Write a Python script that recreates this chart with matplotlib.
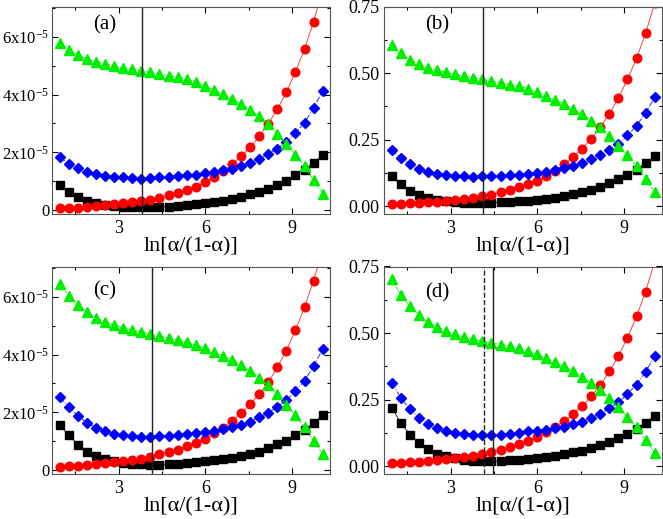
import numpy as np
import matplotlib
matplotlib.use('Agg')
import matplotlib.pyplot as plt
from matplotlib.ticker import MultipleLocator, FixedLocator, FixedFormatter

plt.rcParams['font.family'] = ['Liberation Serif', 'DejaVu Serif']
plt.rcParams['mathtext.fontset'] = 'custom'
plt.rcParams['mathtext.rm'] = 'Liberation Serif'
plt.rcParams['mathtext.default'] = 'regular'

# eje x: ln[a/(1-a)], 30 puntos
x = [0.96, 1.27, 1.59, 1.90, 2.22, 2.53, 2.84, 3.16, 3.47, 3.79,
     4.10, 4.41, 4.73, 5.04, 5.36, 5.67, 5.98, 6.30, 6.61, 6.93,
     7.24, 7.55, 7.87, 8.18, 8.50, 8.81, 9.12, 9.44, 9.75, 10.07]

# (a) en unidades de 1e-5
a_black = [0.85, 0.63, 0.45, 0.31, 0.23, 0.17, 0.14, 0.12, 0.10, 0.09, 0.09, 0.10, 0.12, 0.14, 0.16,
           0.21, 0.24, 0.29, 0.33, 0.39, 0.45, 0.54, 0.62, 0.74, 0.88, 1.01, 1.20, 1.38, 1.63, 1.90]
a_red = [0.07, 0.07, 0.08, 0.10, 0.14, 0.17, 0.20, 0.23, 0.27, 0.31, 0.36, 0.43, 0.52, 0.60, 0.70,
         0.81, 0.96, 1.14, 1.35, 1.59, 1.86, 2.17, 2.55, 2.98, 3.50, 4.08, 4.78, 5.58, 6.52, 7.65]
a_blue = [1.83, 1.61, 1.45, 1.32, 1.24, 1.19, 1.15, 1.13, 1.10, 1.09, 1.10, 1.13, 1.15, 1.17, 1.21,
          1.23, 1.27, 1.31, 1.37, 1.43, 1.52, 1.63, 1.77, 1.94, 2.13, 2.36, 2.67, 3.03, 3.53, 4.14]
a_green = [5.77, 5.54, 5.38, 5.23, 5.14, 5.06, 4.99, 4.92, 4.88, 4.82, 4.77, 4.71, 4.66, 4.60, 4.53,
           4.45, 4.30, 4.16, 4.02, 3.86, 3.68, 3.47, 3.24, 2.97, 2.64, 2.29, 1.92, 1.52, 1.03, 0.57]

# (b)
b_black = [0.112, 0.082, 0.059, 0.043, 0.032, 0.024, 0.019, 0.015, 0.014, 0.013, 0.013, 0.014, 0.015, 0.017, 0.019,
           0.021, 0.024, 0.028, 0.033, 0.039, 0.045, 0.053, 0.062, 0.074, 0.087, 0.101, 0.119, 0.138, 0.162, 0.189]
b_red = [0.010, 0.010, 0.011, 0.013, 0.015, 0.018, 0.020, 0.024, 0.028, 0.033, 0.038, 0.044, 0.053, 0.063, 0.072,
         0.082, 0.096, 0.113, 0.134, 0.158, 0.185, 0.216, 0.254, 0.297, 0.348, 0.406, 0.476, 0.555, 0.650, 0.762]
b_blue = [0.211, 0.182, 0.158, 0.140, 0.129, 0.121, 0.116, 0.114, 0.113, 0.111, 0.113, 0.114, 0.115, 0.116, 0.119,
          0.123, 0.126, 0.130, 0.136, 0.142, 0.151, 0.162, 0.176, 0.193, 0.212, 0.235, 0.266, 0.302, 0.351, 0.410]
b_green = [0.605, 0.575, 0.551, 0.534, 0.519, 0.510, 0.503, 0.495, 0.488, 0.483, 0.476, 0.470, 0.464, 0.457, 0.450,
           0.442, 0.428, 0.414, 0.400, 0.384, 0.366, 0.345, 0.322, 0.296, 0.263, 0.228, 0.191, 0.151, 0.102, 0.052]

# (c) en unidades de 1e-5
c_black = [1.55, 1.20, 0.88, 0.64, 0.48, 0.37, 0.30, 0.25, 0.22, 0.20, 0.19, 0.19, 0.20, 0.21, 0.23,
           0.27, 0.30, 0.34, 0.38, 0.43, 0.49, 0.56, 0.64, 0.75, 0.89, 1.02, 1.20, 1.38, 1.63, 1.91]
c_red = [0.10, 0.13, 0.14, 0.17, 0.22, 0.25, 0.29, 0.31, 0.34, 0.39, 0.46, 0.54, 0.62, 0.71, 0.82,
         0.95, 1.09, 1.27, 1.47, 1.70, 1.97, 2.28, 2.63, 3.04, 3.56, 4.14, 4.84, 5.64, 6.56, 7.65]
c_blue = [2.53, 2.18, 1.88, 1.64, 1.46, 1.34, 1.26, 1.22, 1.18, 1.16, 1.16, 1.17, 1.19, 1.22, 1.25,
          1.29, 1.32, 1.36, 1.42, 1.48, 1.57, 1.68, 1.82, 1.99, 2.18, 2.42, 2.73, 3.10, 3.59, 4.20]
c_green = [6.45, 6.04, 5.73, 5.48, 5.28, 5.13, 5.03, 4.93, 4.85, 4.78, 4.71, 4.64, 4.57, 4.50, 4.42,
           4.33, 4.22, 4.09, 3.96, 3.81, 3.63, 3.43, 3.20, 2.93, 2.62, 2.27, 1.89, 1.49, 1.01, 0.55]

# (d)
d_black = [0.220, 0.163, 0.119, 0.087, 0.064, 0.048, 0.038, 0.030, 0.025, 0.021, 0.019, 0.019, 0.020, 0.023, 0.025,
           0.029, 0.032, 0.036, 0.040, 0.046, 0.052, 0.059, 0.068, 0.079, 0.092, 0.105, 0.122, 0.141, 0.164, 0.190]
d_red = [0.013, 0.014, 0.015, 0.017, 0.020, 0.024, 0.028, 0.031, 0.035, 0.039, 0.045, 0.053, 0.062, 0.073, 0.083,
         0.096, 0.110, 0.127, 0.147, 0.170, 0.196, 0.227, 0.263, 0.305, 0.356, 0.414, 0.482, 0.563, 0.655, 0.770]
d_blue = [0.314, 0.258, 0.214, 0.182, 0.160, 0.144, 0.134, 0.126, 0.122, 0.119, 0.117, 0.117, 0.119, 0.121, 0.124,
          0.131, 0.133, 0.137, 0.143, 0.149, 0.158, 0.168, 0.182, 0.198, 0.217, 0.240, 0.271, 0.307, 0.355, 0.413]
d_green = [0.702, 0.642, 0.601, 0.568, 0.542, 0.523, 0.508, 0.496, 0.486, 0.477, 0.470, 0.463, 0.457, 0.451, 0.443,
           0.433, 0.420, 0.406, 0.392, 0.376, 0.358, 0.337, 0.314, 0.288, 0.256, 0.222, 0.185, 0.146, 0.098, 0.050]

# lineas verticales
a_vlines = [3.81]
b_vlines = [4.13]
c_vlines = [4.15]
d_vlines = [4.15, 4.46]
d_vstyles = ['--', '-']

SCALE = 1e-5
sci_ticks = [0, 2, 4, 6]
sci_labels = ['0', '2x10$^{-5}$', '4x10$^{-5}$', '6x10$^{-5}$']
frac_ticks = [0, 0.25, 0.5, 0.75]
frac_labels = ['0.00', '0.25', '0.50', '0.75']


def panel(ax, black, red, blue, green, scale, letter, lab_y, vlines, vstyles=None):
    xs = np.array(x)
    ax.plot(xs, np.array(black) * scale, '-', color='#333333', lw=0.7, marker='s', ms=5.5, mfc='black', mec='black')
    ax.plot(xs, np.array(red) * scale, '-', color='#ff4040', lw=0.7, marker='o', ms=6.2, mfc='red', mec='red')
    ax.plot(xs, np.array(blue) * scale, '-.', color='#3030ff', lw=0.7, marker='D', ms=5.2, mfc='blue', mec='blue')
    ax.plot(xs, np.array(green) * scale, '--', color='#20e020', lw=0.7, marker='^', ms=7, mfc='#00ee00', mec='#00ee00',
            dashes=(3, 1.5))
    if vstyles is None:
        vstyles = ['-'] * len(vlines)
    for v, st in zip(vlines, vstyles):
        ax.axvline(v, color='#222222', lw=1.0, ls=st)
    ax.set_xlim(0.69, 10.32)
    ax.xaxis.set_major_locator(FixedLocator([3, 6, 9]))
    ax.xaxis.set_minor_locator(MultipleLocator(1.5))
    ax.tick_params(which='both', direction='in', top=True, right=True, labelsize=13)
    ax.tick_params(which='major', length=4, width=0.8)
    ax.tick_params(which='minor', length=2.5, width=0.8)
    ax.tick_params(axis='x', pad=5)
    ax.tick_params(axis='y', pad=3)
    ax.set_xlabel('ln[α/(1-α)]', fontsize=16, labelpad=0)
    ax.text(0.19, lab_y, '(' + letter + ')', transform=ax.transAxes, fontsize=15, ha='center', va='center')
    for s in ax.spines.values():
        s.set_linewidth(0.8)
        s.set_color('#555555')


fig = plt.figure(figsize=(6.63, 5.19), dpi=100)
W, H = 663, 519
axw, axh = 278 / W, 207 / H
ax_a = fig.add_axes([52 / W, 1 - 213.5 / H, axw, axh])
ax_b = fig.add_axes([384 / W, 1 - 213.5 / H, axw, axh])
ax_c = fig.add_axes([52 / W, 1 - 473.5 / H, axw, axh])
ax_d = fig.add_axes([384 / W, 1 - 473.5 / H, axw, axh])

panel(ax_a, a_black, a_red, a_blue, a_green, SCALE, 'a', 0.91, a_vlines)
panel(ax_b, b_black, b_red, b_blue, b_green, 1.0, 'b', 0.91, b_vlines)
panel(ax_c, c_black, c_red, c_blue, c_green, SCALE, 'c', 0.88, c_vlines)
panel(ax_d, d_black, d_red, d_blue, d_green, 1.0, 'd', 0.875, d_vlines, d_vstyles)

for ax in (ax_a, ax_c):
    ax.set_ylim(-0.12 * SCALE, 7.05 * SCALE)
    ax.yaxis.set_major_locator(FixedLocator([t * SCALE for t in sci_ticks]))
    ax.yaxis.set_major_formatter(FixedFormatter(sci_labels))
    ax.yaxis.set_minor_locator(MultipleLocator(SCALE))
    ax.tick_params(axis='y', labelsize=12, pad=2)

for ax in (ax_b, ax_d):
    ax.set_ylim(-0.027, 0.75)
    ax.yaxis.set_major_locator(FixedLocator(frac_ticks))
    ax.yaxis.set_major_formatter(FixedFormatter(frac_labels))
    ax.yaxis.set_minor_locator(MultipleLocator(0.125))

fig.savefig('out.png', dpi=100)
